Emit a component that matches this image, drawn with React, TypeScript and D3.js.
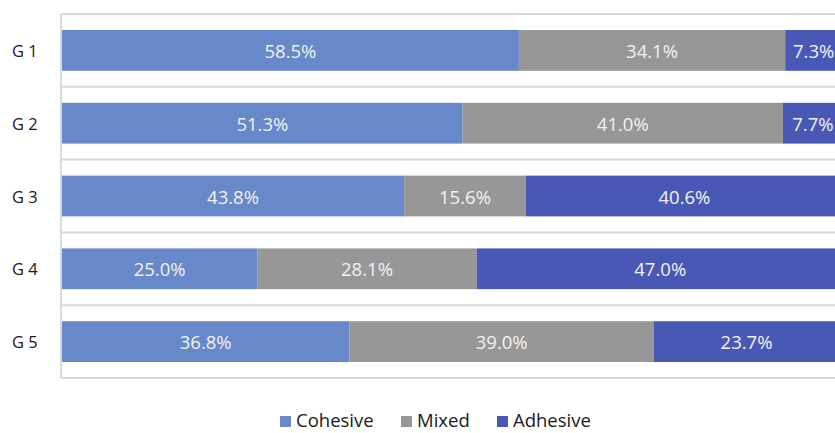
import React from 'react';
import * as d3 from "d3"

const groups = ["G 1", "G 2", "G 3", "G 4", "G 5"]
const seriesNames = ["Cohesive", "Mixed", "Adhesive"]
const cohesive = [58.5, 51.3, 43.8, 25.0, 36.8]
const mixed = [34.1, 41.0, 15.6, 28.1, 39.0]
const adhesive = [7.3, 7.7, 40.6, 47.0, 23.7]
const colors = ["#6788C9", "#979797", "#4A58B5"]

const width = 835
const height = 433
const margin = {top: 14, right: -8, bottom: 55, left: 62}

export default function App() {
  const rows = groups.map((g, i) => ({group: g, Cohesive: cohesive[i], Mixed: mixed[i], Adhesive: adhesive[i]}))
  const stacked = d3.stack<any>().keys(seriesNames)(rows)

  const x = d3.scaleLinear().domain([0, 100]).range([margin.left, width - margin.right])
  const y = d3.scaleBand().domain(groups).range([margin.top, height - margin.bottom]).paddingInner(0.44).paddingOuter(0.22)
  const step = y.step()
  const bounds = d3.range(groups.length + 1).map(i => margin.top + i * step)

  const font = "'Open Sans', sans-serif"
  const legendX = [280, 401, 497]

  return (
    <svg width={width} height={height} style={{position: "absolute", left: 0, top: 0}}>
      {/* gridlines between categories */}
      {bounds.map((b, i) => (
        <line key={i} x1={margin.left - 1} x2={width} y1={b} y2={b} stroke="#d9d9d9" strokeWidth={2} />
      ))}
      <line x1={margin.left - 1} x2={margin.left - 1} y1={margin.top} y2={bounds[bounds.length - 1]} stroke="#d9d9d9" strokeWidth={2} />

      {stacked.map((s, si) => (
        <g key={s.key} fill={colors[si]}>
          {s.map((d: any, i) => (
            <rect key={i} x={x(d[0])} y={y(groups[i])} width={x(d[1]) - x(d[0])} height={y.bandwidth()} />
          ))}
        </g>
      ))}

      {stacked.map((s, si) => (
        <g key={s.key + "-lbl"}>
          {s.map((d: any, i) => (
            <text key={i} x={(x(d[0]) + x(d[1])) / 2} y={(y(groups[i]) as number) + y.bandwidth() / 2}
              textAnchor="middle" dominantBaseline="central" fill="#f2f2f2" fontSize={18.5} fontFamily={font}>
              {(d[1] - d[0]).toFixed(1)}%
            </text>
          ))}
        </g>
      ))}

      {groups.map(g => (
        <text key={g} x={12} y={(y(g) as number) + y.bandwidth() / 2} dominantBaseline="central" fontSize={16.5} fontFamily={font} fill="#1a1a1a">{g}</text>
      ))}

      {seriesNames.map((n, i) => (
        <g key={n} transform={`translate(${legendX[i]},419)`}>
          <rect x={0} y={-3} width={11} height={11} fill={colors[i]} />
          <text x={16} y={0} dominantBaseline="central" fontSize={18.5} fontFamily={font} fill="#1a1a1a">{n}</text>
        </g>
      ))}
    </svg>
  )
}
